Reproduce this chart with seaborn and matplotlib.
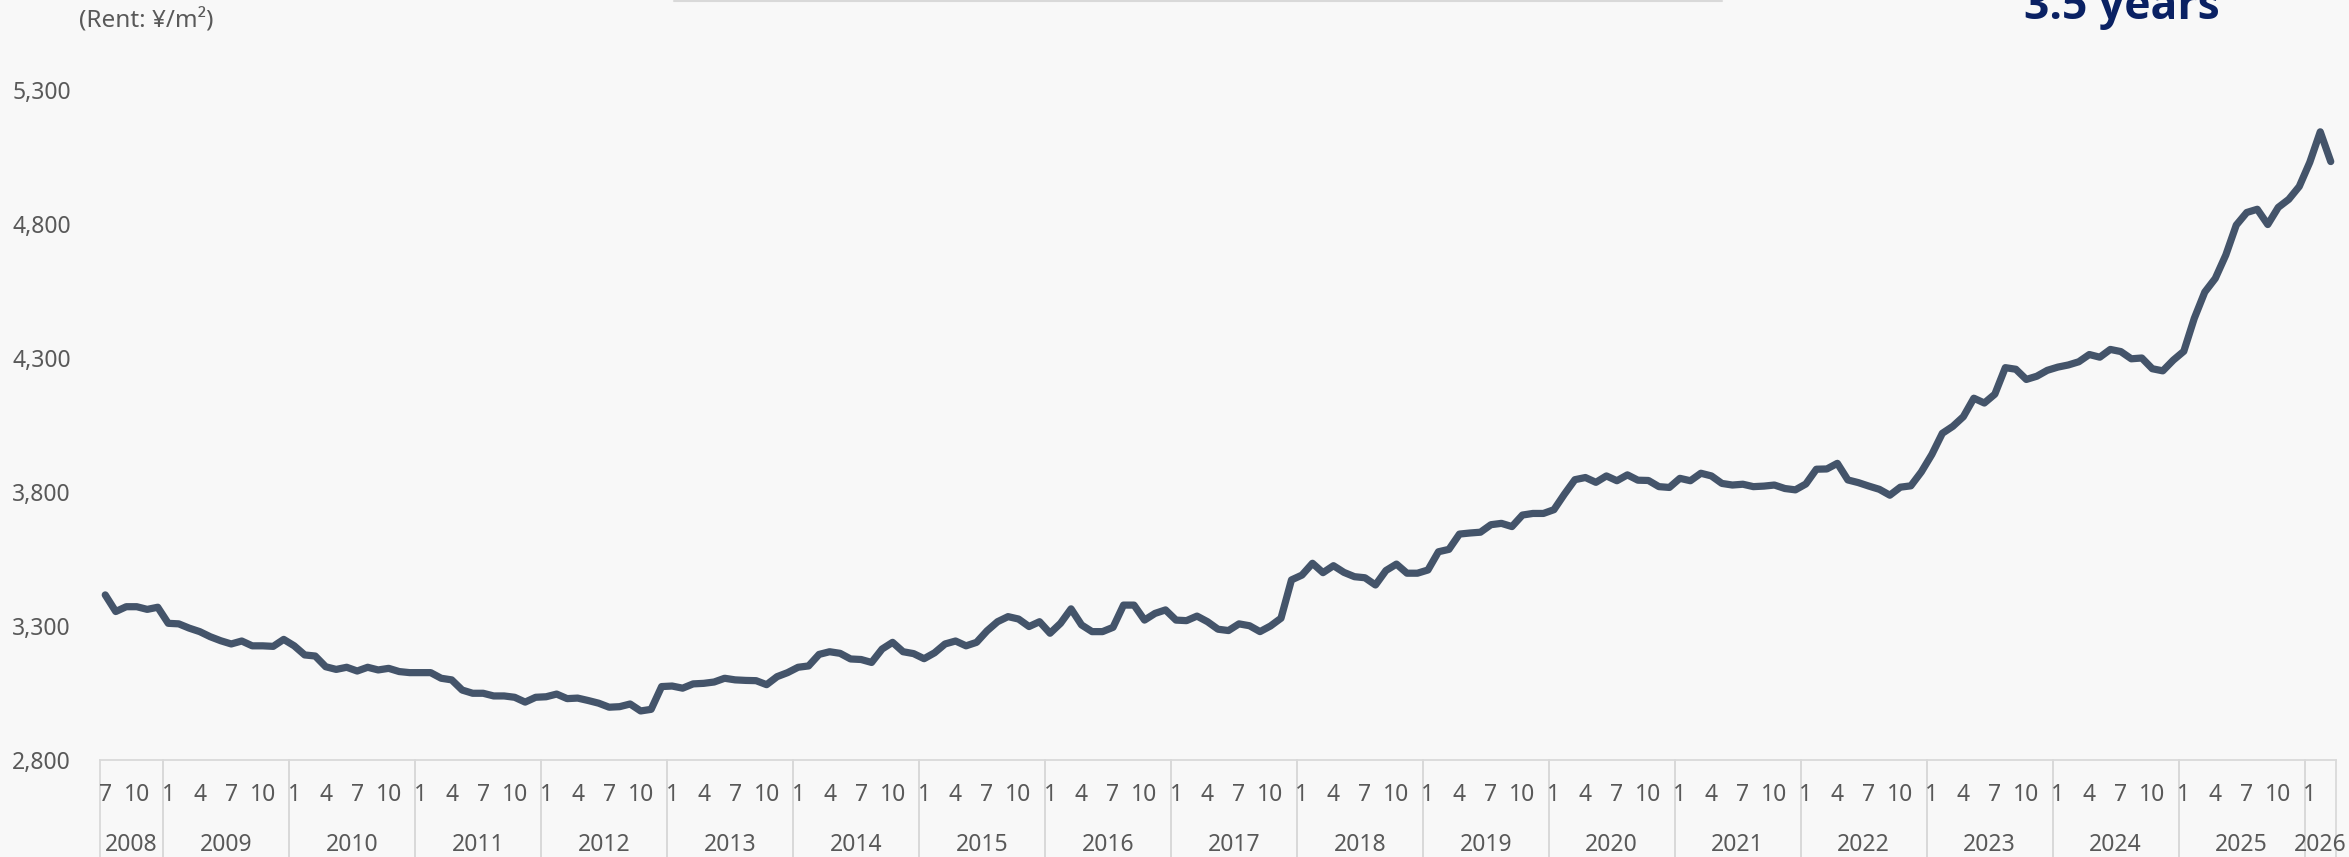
import matplotlib
matplotlib.use("Agg")
import matplotlib.pyplot as plt
from matplotlib.lines import Line2D
import matplotlib.transforms as mtransforms
import seaborn as sns
import pandas as pd

# ---------------- data ----------------
start_year = 2008
start_month = 7
year_labels = [str(y) for y in range(2008, 2027)]
month_ticks = [1, 4, 7, 10]
unit_label = "(Rent: ¥/m²)"
badge_text = "3.5 years"
y_ticks = [2800, 3300, 3800, 4300, 4800, 5300]

rent = [
    3416, 3354, 3372, 3372, 3362, 3370,                                  # 2008 Jul-Dec
    3310, 3308, 3292, 3279, 3260, 3245, 3233, 3244, 3226, 3226, 3224, 3250,  # 2009
    3226, 3192, 3188, 3148, 3138, 3146, 3132, 3146, 3136, 3142, 3130, 3126,  # 2010
    3126, 3126, 3105, 3099, 3061, 3049, 3049, 3039, 3039, 3034, 3016, 3034,  # 2011
    3036, 3046, 3029, 3031, 3022, 3012, 2997, 2999, 3009, 2983, 2989, 3074,  # 2012
    3076, 3068, 3084, 3086, 3091, 3105, 3099, 3097, 3096, 3081, 3111, 3126,  # 2013
    3146, 3151, 3194, 3204, 3198, 3177, 3175, 3164, 3214, 3239, 3204, 3197,  # 2014
    3178, 3200, 3233, 3244, 3226, 3239, 3282, 3316, 3335, 3326, 3298, 3316,  # 2015
    3273, 3310, 3364, 3304, 3279, 3279, 3295, 3378, 3378, 3322, 3347, 3360,  # 2016
    3322, 3320, 3337, 3316, 3288, 3283, 3308, 3301, 3279, 3300, 3329, 3472,  # 2017
    3490, 3534, 3499, 3525, 3500, 3484, 3480, 3453, 3507, 3531, 3497, 3497,  # 2018
    3509, 3577, 3586, 3643, 3647, 3650, 3678, 3683, 3671, 3714, 3720, 3720,  # 2019
    3734, 3792, 3846, 3854, 3836, 3860, 3842, 3864, 3844, 3843, 3820, 3817,  # 2020
    3851, 3842, 3870, 3860, 3832, 3826, 3829, 3820, 3822, 3826, 3813, 3808,  # 2021
    3830, 3885, 3886, 3907, 3845, 3835, 3822, 3810, 3788, 3818, 3823, 3875,  # 2022
    3940, 4019, 4045, 4081, 4150, 4132, 4165, 4264, 4258, 4220, 4232, 4254,  # 2023
    4266, 4274, 4286, 4313, 4303, 4332, 4324, 4297, 4300, 4260, 4252, 4292,  # 2024
    4325, 4448, 4546, 4597, 4684, 4796, 4843, 4855, 4798, 4862, 4892, 4940,  # 2025
    5030, 5144, 5033,                                                     # 2026 Jan-Mar
]

# ---------------- style ----------------
BG = "#F8F8F8"
LINE = "#44546A"
GRID = "#D9D9D9"
TXT = "#595959"
NAVY = "#0A2163"

sns.set_theme(style="white")
plt.rcParams["font.family"] = ["Noto Sans", "DejaVu Sans"]

W, H = 2349, 857
fig = plt.figure(figsize=(W / 100, H / 100), dpi=100, facecolor=BG)
ax_left, ax_right = 100 / W, 2336 / W
ax_bottom, ax_top = (H - 760) / H, (H - 90) / H
ax = fig.add_axes([ax_left, ax_bottom, ax_right - ax_left, ax_top - ax_bottom])
ax.set_facecolor(BG)

n = len(rent)
df = pd.DataFrame({"idx": list(range(n)), "rent": rent})
sns.lineplot(data=df, x="idx", y="rent", ax=ax, color=LINE, linewidth=5.2)
for l in ax.lines:
    l.set_solid_joinstyle("round")
    l.set_solid_capstyle("round")

ax.set_xlim(-0.5, n - 0.5)
ax.set_ylim(y_ticks[0], y_ticks[-1])
ax.set_yticks(y_ticks)
ax.set_yticklabels([f"{v:,}" for v in y_ticks])
ax.set_xticks([])
ax.set_xlabel("")
ax.set_ylabel("")
ax.tick_params(axis="y", length=0, pad=21, labelsize=16.5, labelcolor=TXT)
for s in ["top", "right", "left"]:
    ax.spines[s].set_visible(False)
ax.spines["bottom"].set_color(GRID)
ax.spines["bottom"].set_linewidth(1.3)

# category axis labels: months and years
trans = mtransforms.blended_transform_factory(ax.transData, ax.transAxes)
ax_h_px = (ax_top - ax_bottom) * H
fig_bottom_in_axes = -ax_bottom * H / ax_h_px
month_y = -(795 - 760) / ax_h_px
year_y = -(845 - 760) / ax_h_px

year_starts = {}
for i in range(n):
    m = (start_month - 1 + i) % 12 + 1
    y = start_year + (start_month - 1 + i) // 12
    year_starts.setdefault(y, [i, i])
    year_starts[y][1] = i
    if m in month_ticks:
        ax.text(i, month_y, str(m), transform=trans, ha="center", va="center",
                fontsize=16.5, color=TXT, clip_on=False)

for y, (a, b) in year_starts.items():
    ax.text((a + b) / 2, year_y, year_labels[y - start_year], transform=trans,
            ha="center", va="center", fontsize=16.5, color=TXT, clip_on=False)
    for xb in (a - 0.5, b + 0.5):
        ax.add_line(Line2D([xb, xb], [0, fig_bottom_in_axes], transform=trans,
                           color=GRID, linewidth=1.3, clip_on=False))

# header texts
fig.text(79 / W, 1 - 21 / H, unit_label, ha="left", va="center", fontsize=17.5, color=TXT)
fig.text(2024 / W, 1 - 19 / H, badge_text, ha="left", va="baseline", fontsize=32,
         fontweight="bold", family=["Open Sans", "Lato", "DejaVu Sans"], color=NAVY)
fig.add_artist(Line2D([674 / W, 1722 / W], [1 - 1 / H, 1 - 1 / H], transform=fig.transFigure,
                      color=GRID, linewidth=1.5))

fig.savefig("out.png", dpi=100, facecolor=BG)
